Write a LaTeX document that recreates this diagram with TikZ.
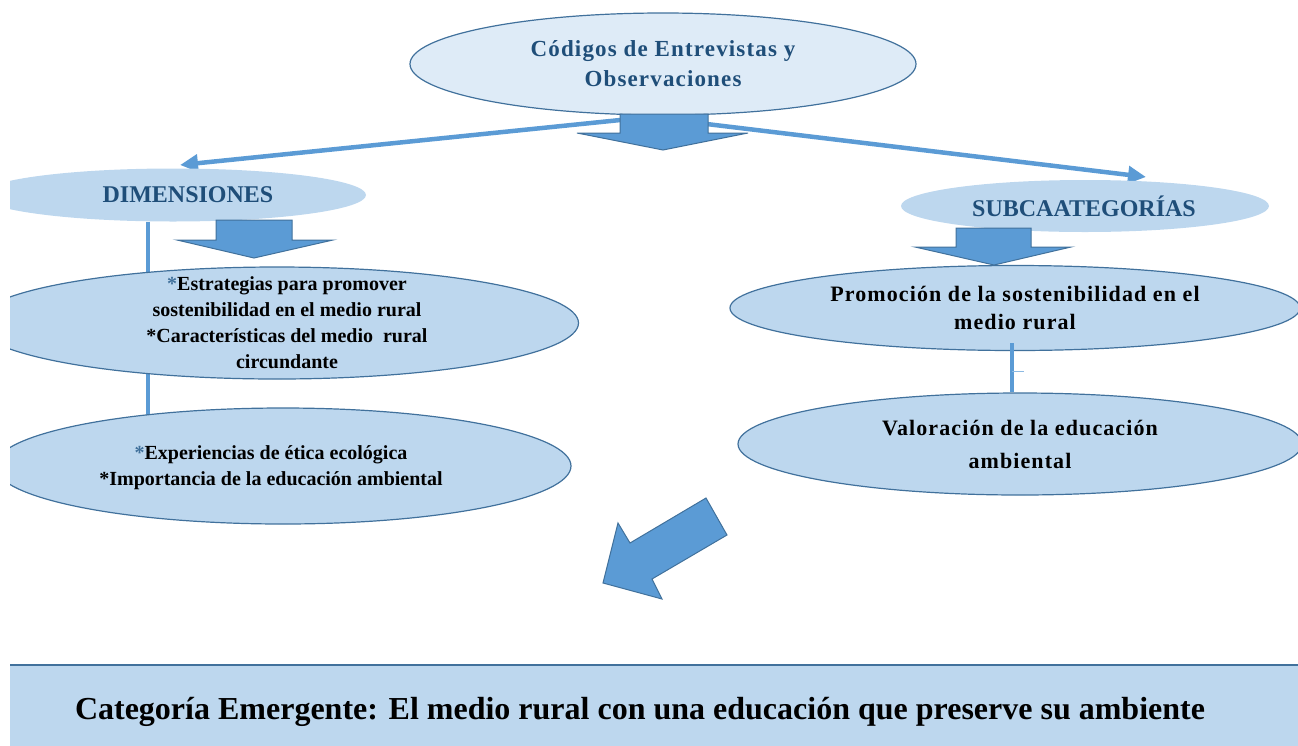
\documentclass[tikz,border=0pt]{standalone}
\usepackage{fontspec}
\setmainfont{Liberation Serif}
\usetikzlibrary{arrows.meta,positioning,shapes.geometric,backgrounds}
\definecolor{PaleBlue}{RGB}{222,235,247}
\definecolor{SoftBlue}{RGB}{189,215,238}
\definecolor{MidBlue}{RGB}{91,155,213}
\definecolor{EdgeBlue}{RGB}{65,113,156}
\definecolor{DeepBlue}{RGB}{31,78,121}
\tikzset{
  bubble/.style={ellipse,fill=SoftBlue,draw=EdgeBlue,line width=1.2pt,inner sep=0pt},
  headbubble/.style={ellipse,fill=SoftBlue,inner sep=0pt},
  headtext/.style={inner sep=0pt,text=DeepBlue,font=\fontsize{24}{28}\selectfont\bfseries},
  bodytext/.style={align=center,inner sep=0pt,font=\fontsize{20}{26}\selectfont\bfseries},
  blockarrow/.style={fill=MidBlue,draw=EdgeBlue,line width=1pt,line join=miter},
  link/.style={MidBlue,line width=4.5pt}
}

\begin{document}
\begin{tikzpicture}[x=1pt,y=-1pt,>={Triangle[length=18pt,width=17pt]}]
  \useasboundingbox (0,0) rectangle (1298,745);
  \clip (10,0) rectangle (1298,745);

  % titulo y ramas
  \node[bubble,fill=PaleBlue,minimum width=506pt,minimum height=102pt,
    text=DeepBlue,align=center,
    font=\fontsize{23}{30}\selectfont\bfseries\addfontfeatures{LetterSpace=5}]
    (top) at (663,64) {Códigos de Entrevistas y\\Observaciones};
  \node[headbubble,minimum width=386pt,minimum height=53pt] (dim) at (173,195) {};
  \node[headtext] (dimtext) at (188,195) {DIMENSIONES};
  \node[headbubble,minimum width=368pt,minimum height=52pt] (sub) at (1085,206) {};
  \node[headtext] (subtext) at (1084,206) {SUBCAATEGORÍAS};

  % lado izquierdo
  \node[bubble,minimum width=603pt,minimum height=112pt] (est) at (277,323) {};
  \node[bodytext] (esttext) at (287,323)
    {{\color{EdgeBlue}*}Estrategias para promover\\
     sostenibilidad en el medio rural\\
     *Características del medio\ \ rural\\
     circundante};
  \node[bubble,minimum width=576pt,minimum height=116pt] (exp) at (283,466) {};
  \node[bodytext] (exptext) at (271,468)
    {{\color{EdgeBlue}*}Experiencias de ética ecológica\\
     *Importancia de la educación ambiental};

  % lado derecho
  \node[bubble,minimum width=570pt,minimum height=85pt,align=center,
    font=\fontsize{22}{28}\selectfont\bfseries\addfontfeatures{LetterSpace=5}]
    (prom) at (1015,308) {Promoción de la sostenibilidad en el\\medio rural};
  \node[bubble,minimum width=564pt,minimum height=102pt,align=center,
    font=\fontsize{22}{33}\selectfont\bfseries\addfontfeatures{LetterSpace=5}]
    (val) at (1020,444) {Valoración de la educación\\ambiental};

  \coordinate (lfoot) at (640,118);
  \coordinate (rfoot) at (690,122);
  \coordinate (ltip) at (180,165);
  \coordinate (rtip) at (1146,177);

  \begin{scope}[on background layer]
    \draw[link,->] (lfoot) -- (ltip);
    \draw[link,->] (rfoot) -- (rtip);
    \draw[link] ([xshift=-25pt]dim.south) -- ([xshift=-25pt]dim.south |- exp.160);
  \end{scope}

  \draw[link] ([xshift=-3pt,yshift=8pt]prom.south) -- ([xshift=-3pt]prom.south |- val.north);
  \draw[MidBlue!70,line width=1pt] ([xshift=-3pt,yshift=-20pt]prom.south) -- ++(12,0);

  % flechas anchas
  \draw[blockarrow] (620,114) -- (708,114) -- (708,133) -- (748,133) -- (663,150)
    -- (577,133) -- (620,133) -- cycle;
  \draw[blockarrow] (216,220) -- (292,220) -- (292,240) -- (333,240) -- (254,258)
    -- (177,240) -- (216,240) -- cycle;
  \draw[blockarrow] (956,228) -- (1031,228) -- (1031,247) -- (1071,247) -- (994,265)
    -- (915,247) -- (956,247) -- cycle;
  \draw[blockarrow] (706,498) -- (727,535) -- (652,579) -- (662,599) -- (603,583)
    -- (618,523) -- (630,543) -- cycle;

  % categoria
  \node[fill=SoftBlue,minimum width=1288pt,minimum height=84pt,inner sep=0pt,
    anchor=north west] (catbox) at (10,665) {};
  \draw[EdgeBlue,line width=2pt] (catbox.north west) -- (catbox.north east);
  \node[font=\fontsize{32}{36}\selectfont\bfseries] (cat) at (640,712)
    {Categoría Emergente: El medio rural con una educación que preserve su ambiente};
\end{tikzpicture}
\end{document}
